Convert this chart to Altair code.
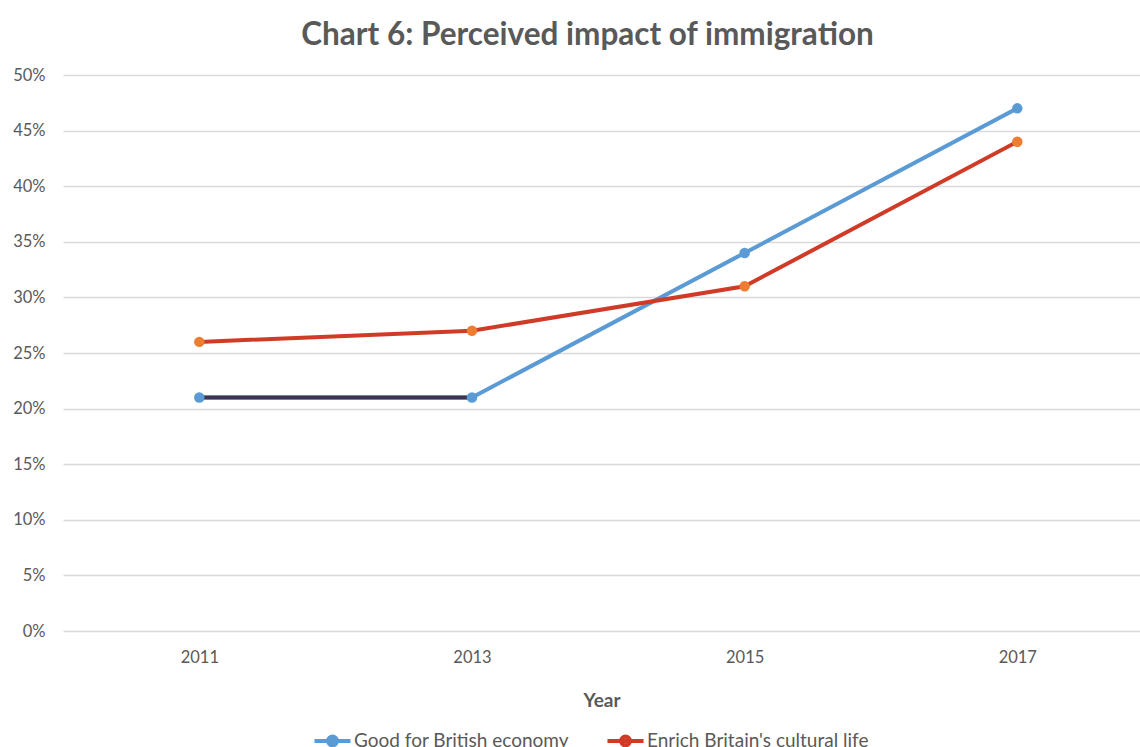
import altair as alt
import pandas as pd

years = [2011, 2013, 2015, 2017]
economy = [0.21, 0.21, 0.34, 0.47]
culture = [0.26, 0.27, 0.31, 0.44]
series_names = ["Good for British economy", "Enrich Britain's cultural life"]
line_colors = ["#5B9BD5", "#D03B27"]
marker_colors = ["#5B9BD5", "#ED7D31"]
y_ticks = [0, 0.05, 0.1, 0.15, 0.2, 0.25, 0.3, 0.35, 0.4, 0.45, 0.5]

rows = []
for y, v in zip(years, economy):
    rows.append({"Year": y, "value": v, "series": series_names[0]})
for y, v in zip(years, culture):
    rows.append({"Year": y, "value": v, "series": series_names[1]})
df = pd.DataFrame(rows)

# highlighted flat segment (2011-2013) of the economy series
seg = pd.DataFrame({"Year": years[:2], "value": economy[:2]})

FONT = "Lato"
GREY = "#595959"

x = alt.X("Year:Q", title="Year",
          scale=alt.Scale(domain=[2010, 2017.9], nice=False, zero=False),
          axis=alt.Axis(values=years, format="d", grid=False, domain=False, ticks=False,
                        labelFontSize=16.5, labelColor=GREY, labelPadding=18, labelFont=FONT,
                        titleFontSize=19, titleFontWeight="bold", titleColor=GREY,
                        titleFont=FONT, titlePadding=26))
y = alt.Y("value:Q", title=None,
          scale=alt.Scale(domain=[0, 0.5], nice=False),
          axis=alt.Axis(values=y_ticks, format=".0%", domain=False, ticks=False,
                        labelFontSize=16.5, labelColor=GREY, labelPadding=18, labelFont=FONT,
                        gridColor="#d9d9d9", gridWidth=1.5))

sym = "M-1,0L1,0M0.25,0A0.25,0.25,0,1,1,-0.25,0A0.25,0.25,0,1,1,0.25,0"

def make_legend():
    return alt.Legend(title=None, orient="none", direction="horizontal",
                      legendX=249, legendY=645,
                      symbolType=sym, symbolSize=1300, symbolStrokeWidth=4,
                      labelFontSize=19, labelColor=GREY, labelFont=FONT, labelLimit=0,
                      columnPadding=30, labelOffset=1)

lines = alt.Chart(df).mark_line(strokeWidth=4).encode(
    x=x, y=y,
    stroke=alt.Stroke("series:N", sort=series_names,
                      scale=alt.Scale(domain=series_names, range=line_colors),
                      legend=make_legend()),
)
dark = alt.Chart(seg).mark_line(strokeWidth=4, color="#3E3450").encode(x=x, y=y)
points = alt.Chart(df).mark_point(filled=True, size=110, opacity=1).encode(
    x=x, y=y,
    fill=alt.Fill("series:N", sort=series_names,
                  scale=alt.Scale(domain=series_names, range=marker_colors),
                  legend=make_legend()),
)

chart = alt.layer(lines, dark, points).properties(
    width=1077, height=556,
    background="white",
    title=alt.TitleParams("Chart 6: Perceived impact of immigration", fontSize=31.5,
                          font=FONT, fontWeight="bold", color=GREY, offset=16, dx=-14),
    padding={"left": 63, "top": 75, "right": 0, "bottom": 130},
    autosize=alt.AutoSizeParams(type="none"),
).configure_view(stroke=None)

chart.save("out.html", embed_options={"renderer": "svg", "actions": False})
